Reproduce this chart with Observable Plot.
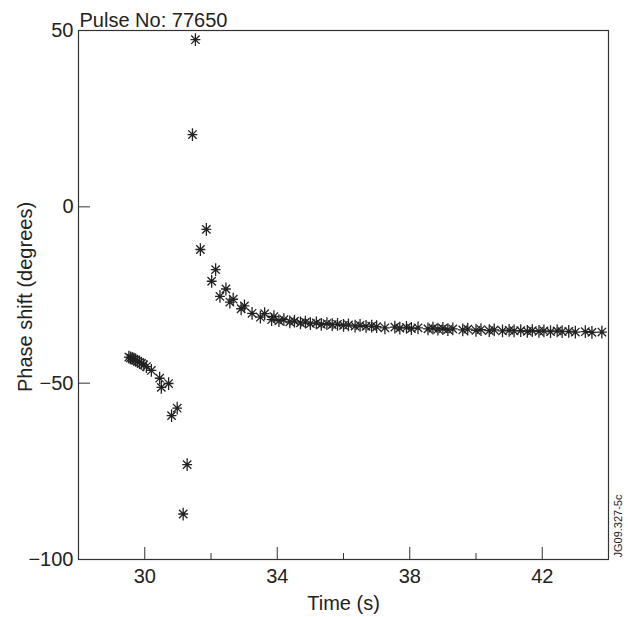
<!DOCTYPE html>
<html>
<head>
<meta charset="utf-8">
<script src="https://cdn.jsdelivr.net/npm/d3@7"></script>
<script src="https://cdn.jsdelivr.net/npm/@observablehq/plot@0.6"></script>
<style>
  html, body { margin: 0; padding: 0; background: #fff; }
  svg { display: block; }
</style>
</head>
<body>
<div id="chart"></div>
<script>
const title = "Pulse No: 77650";
const xLabel = "Time (s)";
const yLabel = "Phase shift (degrees)";
const figId = "JG09.327-5c";

const xMajorTicks = [30, 34, 38, 42];
const xMinorTicks = [32, 36, 40];
const yTicks = [50, 0, -50, -100];
const yInnerTicks = [0, -50];

const time = [
  29.52, 29.57, 29.62, 29.67, 29.72, 29.78, 29.84, 29.90, 29.97, 30.05, 30.20,
  30.45, 30.50, 30.72, 30.81, 30.98, 31.16, 31.28,
  31.44, 31.53, 31.68, 31.86, 32.02, 32.14, 32.27, 32.45, 32.57, 32.67, 32.91, 33.01,
  33.24, 33.49, 33.62, 33.83, 33.90,
  34.05, 34.20, 34.38, 34.52, 34.70, 34.85, 35.00, 35.18, 35.33, 35.50, 35.66, 35.82,
  36.00, 36.15, 36.35, 36.50, 36.68, 36.85, 37.00, 37.25, 37.55, 37.70, 37.90, 38.05,
  38.25, 38.55, 38.70, 38.85, 39.00, 39.15, 39.30, 39.60, 39.75, 40.00, 40.15, 40.40,
  40.55, 40.80, 41.00, 41.15, 41.35, 41.55, 41.70, 41.90, 42.05, 42.25, 42.45, 42.60,
  42.80, 43.00, 43.30, 43.50, 43.80
];
const phase = [
  -42.6, -42.8, -43.0, -43.2, -43.4, -43.8, -44.1, -44.4, -44.8, -45.3, -46.4,
  -48.6, -51.2, -50.1, -59.2, -57.1, -87.1, -73.1,
  20.5, 47.4, -12.1, -6.4, -21.1, -17.8, -25.4, -23.3, -27.0, -26.2, -28.9, -28.1,
  -30.2, -31.3, -30.3, -32.0, -31.1,
  -32.3, -32.0, -32.6, -32.4, -32.9, -32.7, -33.1, -32.9, -33.3, -33.1, -33.4, -33.3,
  -33.6, -33.5, -33.8, -33.6, -33.9, -33.8, -34.0, -34.3, -34.1, -34.4, -34.2, -34.5,
  -34.3, -34.6, -34.4, -34.7, -34.5, -34.8, -34.6, -34.9, -34.7, -35.0, -34.8, -35.1,
  -34.9, -35.2, -35.0, -35.2, -35.1, -35.3, -35.1, -35.3, -35.2, -35.4, -35.2, -35.4,
  -35.3, -35.5, -35.4, -35.6, -35.5
];

const data = time.map((t, i) => ({t, v: phase[i]}));

// eight-armed asterisk symbol
const star8 = {
  draw(ctx, size) {
    const r = Math.sqrt(size / Math.PI);
    const d = r * 0.72;
    ctx.moveTo(0, -r * 1.1); ctx.lineTo(0, r * 1.1);
    ctx.moveTo(-r * 0.85, 0); ctx.lineTo(r * 0.85, 0);
    ctx.moveTo(-d, -d); ctx.lineTo(d, d);
    ctx.moveTo(-d, d); ctx.lineTo(d, -d);
  }
};

const font = "'Liberation Sans', Arial, Helvetica, sans-serif";

const chart = Plot.plot({
  width: 628,
  height: 617,
  marginTop: 30,
  marginBottom: 58,
  marginLeft: 78,
  marginRight: 20,
  style: {fontFamily: font, fontSize: "20px", color: "#222", background: "#fff"},
  x: {domain: [28, 44]},
  y: {domain: [-100, 50]},
  marks: [
    Plot.frame({stroke: "#333", strokeWidth: 1.2}),
    Plot.axisX(xMajorTicks, {anchor: "bottom", tickSize: 0, tickPadding: 9, fontSize: 20, label: null}),
    Plot.axisX(xMajorTicks, {anchor: "bottom", tickSize: -12, text: null, label: null, stroke: "#333"}),
    Plot.axisX(xMinorTicks, {anchor: "bottom", tickSize: -6, text: null, label: null, stroke: "#333"}),
    Plot.axisY(yTicks, {anchor: "left", tickSize: 0, tickPadding: 5, fontSize: 20, label: null}),
    Plot.axisY(yInnerTicks, {anchor: "left", tickSize: -12, text: null, label: null, stroke: "#333"}),
    Plot.dot(data, {x: "t", y: "v", symbol: star8, r: 5.8, stroke: "#222", strokeWidth: 1.3, fill: "none"}),
    Plot.text([title], {frameAnchor: "top-left", dx: 1, dy: -4, textAnchor: "start", lineAnchor: "bottom", fontSize: 20, fill: "#222"}),
    Plot.text([xLabel], {frameAnchor: "bottom", dy: 44, lineAnchor: "middle", fontSize: 20, fill: "#222"}),
    Plot.text([yLabel], {frameAnchor: "left", dx: -53, dy: 2, rotate: -90, textAnchor: "middle", lineAnchor: "middle", fontSize: 20, fill: "#222"}),
    Plot.text([figId], {frameAnchor: "bottom-right", dx: 10, dy: -2, rotate: -90, textAnchor: "start", lineAnchor: "middle", fontSize: 11, fill: "#222"})
  ]
});

document.getElementById("chart").appendChild(chart);
</script>
</body>
</html>
